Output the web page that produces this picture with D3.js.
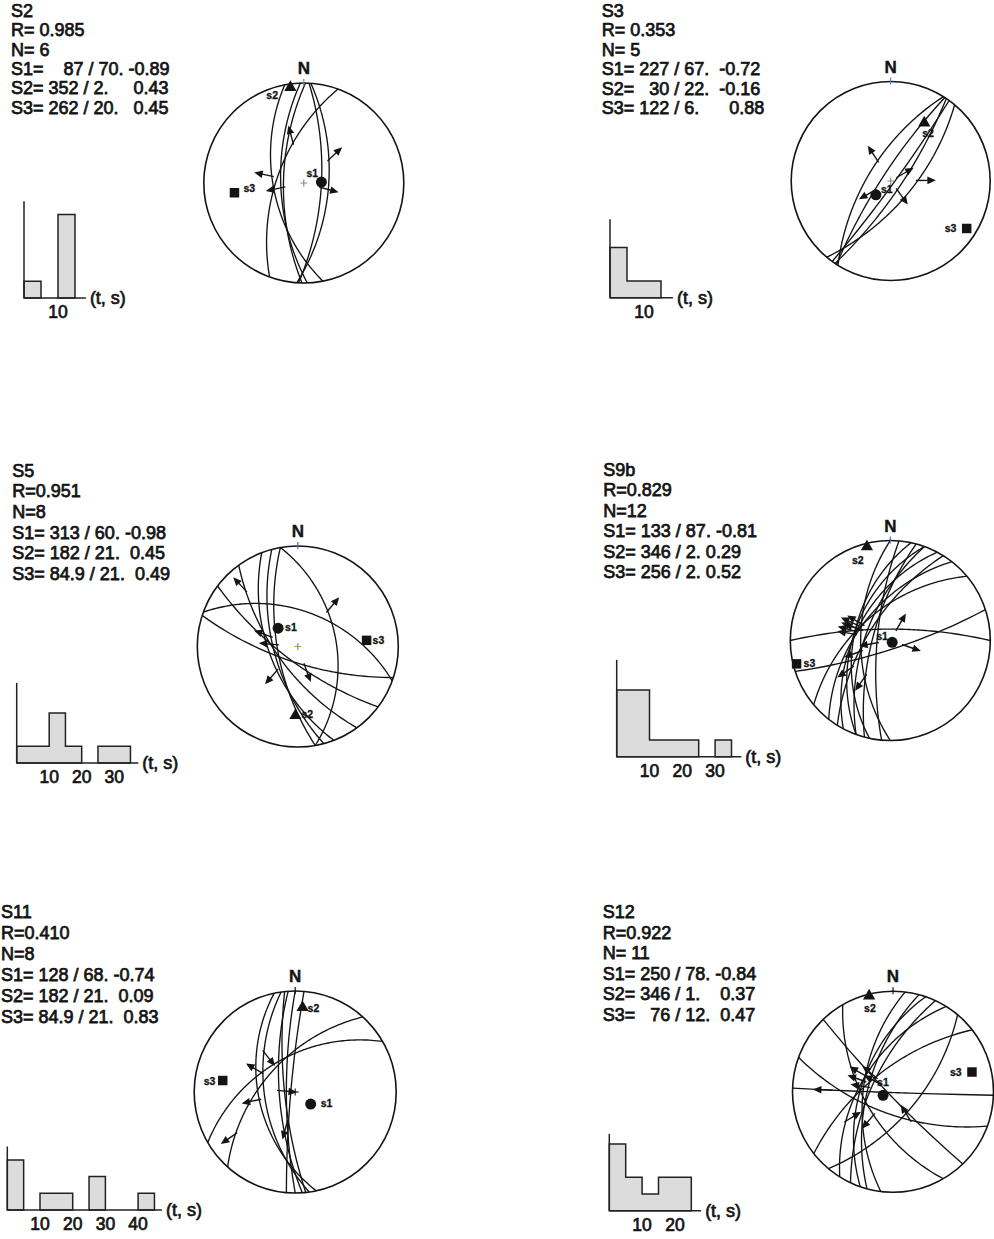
<!DOCTYPE html>
<html>
<head>
<meta charset="utf-8">
<script src="https://cdn.jsdelivr.net/npm/d3@7"></script>
<style>
  body { margin: 0; background: #fff; }
  svg { display: block; }
  text { font-family: "Liberation Sans", Arial, Helvetica, sans-serif; }
</style>
</head>
<body>
<svg id="fig" width="994" height="1239"></svg>
<script>
// ---- Site headers -------------------------------------------------------
const titles      = ["S2", "S3", "S5", "S9b", "S11", "S12"];
const ratioLines  = ["R= 0.985", "R= 0.353", "R=0.951", "R=0.829", "R=0.410", "R=0.922"];
const countLines  = ["N= 6", "N= 5", "N=8", "N=12", "N=8", "N= 11"];
const sigma1Lines = ["S1=    87 / 70. -0.89", "S1= 227 / 67.  -0.72", "S1= 313 / 60. -0.98",
                     "S1= 133 / 87. -0.81", "S1= 128 / 68. -0.74", "S1= 250 / 78. -0.84"];
const sigma2Lines = ["S2= 352 / 2.     0.43", "S2=   30 / 22.  -0.16", "S2= 182 / 21.  0.45",
                     "S2= 346 / 2. 0.29", "S2= 182 / 21.  0.09", "S2= 346 / 1.    0.37"];
const sigma3Lines = ["S3= 262 / 20.   0.45", "S3= 122 / 6.      0.88", "S3= 84.9 / 21.  0.49",
                     "S3= 256 / 2. 0.52", "S3= 84.9 / 21.  0.83", "S3=   76 / 12.  0.47"];

// ---- Principal stress axes plotted on each net: [trend, plunge] for s1, s2, s3
const axesS2  = [[87, 70], [352, 2], [262, 20]];
const axesS3  = [[227, 67], [30, 22], [122, 6]];
const axesS5  = [[313, 60], [182, 21], [84.9, 21]];
const axesS9b = [[133, 87], [346, 2], [256, 2]];
const axesS11 = [[128, 68], [5, 10], [279, 18]];
const axesS12 = [[250, 78], [346, 1], [76, 12]];

// ---- Fault-slip data: [strike (right-hand rule), dip, slip-line trend, sense]
// sense 1 = arrow pointing away from the net centre, -1 = towards it
const faultsS2 = [[200, 60, 345, 1], [169, 56, 282, 1], [181, 67, 258, 1],
                  [4, 62, 47, 1], [3, 70, 105, 1], [178, 64, null, 1]];
const faultsS3 = [[212, 65, 327, 1], [40, 66, 89, 1], [34, 78, 144, 1],
                  [213, 80, 240, 1], [36, 86, 60, 1]];
const faultsS5 = [[290, 51, null, 1], [350, 48, 40, 1], [165, 63, 290, 1], [159, 58, 221, 1],
                  [144, 66, 317, 1], [127, 73, null, 1], [108, 72, 160, 1], [170, 67, 275, 1]];
const faultsS9b = [[270, 77, 30, 1], [72, 80, 109, 1], [180, 57, 290, 1], [192, 50, 285, 1],
                   [200, 50, 295, 1], [208, 52, 280, 1], [218, 55, 300, 1], [230, 56, 290, 1],
                   [200, 62, 250, 1], [212, 65, 235, 1], [195, 70, 215, 1], [185, 75, 260, 1]];
const faultsS11 = [[240, 52, 300, 1], [222, 56, 235, 1], [168, 50, 258, 1], [172, 56, 322, -1],
                   [176, 72, 275, -1], [180, 80, 195, 1], [174, 78, null, 1], [185, 85, null, 1]];
const faultsS12 = [[92, 89, 271.5, 1], [110, 65, 149, -1], [40, 63, null, 1], [232, 65, null, 1],
                   [150, 58, 220, 1], [136, 85, 300, 1], [187, 57, 290, 1], [199, 55, 300, 1],
                   [212, 55, 238, -1], [195, 62, 280, 1], [205, 66, 310, 1]];

// ---- Histograms of fault counts per 5-unit bin of (t, s)
const binWidth = 5;
const binsS2  = [1, 0, 5];
const binsS3  = [3, 1, 1];
const binsS5  = [1, 1, 3, 1, 0, 1, 1];
const binsS9b = [4, 4, 1, 1, 1, 0, 1];
const binsS11 = [3, 0, 1, 1, 0, 2, 0, 0, 1];
const binsS12 = [4, 2, 1, 2, 2];
const histTop   = [5.8, 4.7, 4.8, 5.8, 3.8, 4.6];        // count reached by the vertical axis
const histEnd   = [18.2, 18.5, 37.4, 38, 47.3, 28];      // extent of the horizontal axis
const histTicks = [[10], [10], [10, 20, 30], [10, 20, 30], [10, 20, 30, 40], [10, 20]];

const axesAll   = [axesS2, axesS3, axesS5, axesS9b, axesS11, axesS12];
const faultsAll = [faultsS2, faultsS3, faultsS5, faultsS9b, faultsS11, faultsS12];
const binsAll   = [binsS2, binsS3, binsS5, binsS9b, binsS11, binsS12];

// ---- Page layout of every panel
const layout = [
  { tx: 11,    ty: 17,    gap: 19.3, hx: 24,    hy: 298,    ux: 3.4,  cx: 303.8, cy: 183,    r: 100,
    lab: [[-15, -5], [-24, 12], [9, -1]], tick: "#4f8fd8", cross: true },
  { tx: 601.7, ty: 16.7,  gap: 19.5, hx: 610,   hy: 297.7,  ux: 3.4,  cx: 890.7, cy: 181,    r: 99.5,
    lab: [[5, -2], [-2, 14], [-22, 4]], tick: "#4f8fd8", cross: true },
  { tx: 12.3,  ty: 476.7, gap: 20.66, hx: 16.7, hy: 763,    ux: 3.25, cx: 297.8, cy: 646.5,  r: 100.5,
    lab: [[7, 3], [6, 2], [6, 4]], tick: "#3a6fc0", cross: true },
  { tx: 603.3, ty: 476,   gap: 20.46, hx: 616.7, hy: 756.7, ux: 3.28, cx: 890.3, cy: 640.5,  r: 100,
    lab: [[-16, -2], [-15, 17], [7, 3]], tick: "#3a6fc0", cross: false },
  { tx: 1,     ty: 918.3, gap: 20.9, hx: 7.3,   hy: 1210,   ux: 3.27, cx: 295.2, cy: 1092,   r: 101,
    lab: [[10, 3], [5, 4], [-19, 4]], tick: "#111", cross: true },
  { tx: 602.7, ty: 918.3, gap: 20.5, hx: 609.3, hy: 1210.7, ux: 3.28, cx: 893,   cy: 1091.7, r: 100.5,
    lab: [[-6, -9], [-5, 16], [-22, 4]], tick: "#111", cross: false }
];

const rad = Math.PI / 180;
const ink = "#141414";
const svg = d3.select("#fig");

// Point of a plane (strike s, dip d) lying in azimuth a, as [lon, lat] = [trend, -plunge]
function planePoint(s, d, a) {
  const dd = Math.min(d, 89.9);
  const p = Math.atan(Math.tan(dd * rad) * Math.abs(Math.sin((a - s) * rad))) / rad;
  return [a, -p];
}

titles.forEach((title, i) => {
  const L = layout[i];
  const g = svg.append("g");

  // --- header text block
  const lines = [titles[i], ratioLines[i], countLines[i], sigma1Lines[i], sigma2Lines[i], sigma3Lines[i]];
  g.selectAll("text.hdr").data(lines).join("text")
    .attr("class", "hdr")
    .attr("x", L.tx)
    .attr("y", (d, k) => L.ty + k * L.gap)
    .attr("xml:space", "preserve")
    .style("white-space", "pre")
    .attr("font-size", 18)
    .attr("fill", ink)
    .attr("stroke", ink)
    .attr("stroke-width", 0.75)
    .text(d => d);

  // --- histogram
  const xh = d3.scaleLinear().domain([0, histEnd[i]]).range([L.hx, L.hx + histEnd[i] * L.ux]);
  const yh = d3.scaleLinear().domain([0, histTop[i]]).range([L.hy, L.hy - histTop[i] * 16.7]);
  const bins = binsAll[i];
  const runs = [];
  let cur = null;
  bins.forEach((c, k) => {
    if (c > 0) { if (!cur) { cur = []; runs.push(cur); } cur.push([k, c]); }
    else cur = null;
  });
  const line = d3.line();
  runs.forEach(run => {
    const pts = [[xh(run[0][0] * binWidth), yh(0)]];
    run.forEach(([k, c]) => {
      pts.push([xh(k * binWidth), yh(c)], [xh((k + 1) * binWidth), yh(c)]);
    });
    pts.push([xh((run[run.length - 1][0] + 1) * binWidth), yh(0)]);
    g.append("path").attr("d", line(pts) + "Z")
      .attr("fill", "#dcdcdc").attr("stroke", "#222").attr("stroke-width", 1.5);
  });
  g.append("line").attr("x1", xh(0)).attr("x2", xh(0)).attr("y1", yh(0)).attr("y2", yh(histTop[i]))
    .attr("stroke", "#222").attr("stroke-width", 1.5);
  g.append("line").attr("x1", xh(0)).attr("x2", xh(histEnd[i])).attr("y1", yh(0)).attr("y2", yh(0))
    .attr("stroke", "#222").attr("stroke-width", 1.5);
  g.selectAll("text.tk").data(histTicks[i]).join("text")
    .attr("class", "tk")
    .attr("x", d => xh(d)).attr("y", L.hy + 20)
    .attr("text-anchor", "middle").attr("font-size", 17.5)
    .attr("fill", ink).attr("stroke", ink).attr("stroke-width", 0.7)
    .text(d => d);
  g.append("text").attr("x", xh(histEnd[i]) + 4).attr("y", L.hy + 6)
    .attr("font-size", 18).attr("fill", ink).attr("stroke", ink).attr("stroke-width", 0.7)
    .text("(t, s)");

  // --- stereonet (lower hemisphere, equal-angle)
  const proj = d3.geoStereographic()
    .rotate([0, 90])
    .clipAngle(90)
    .scale(L.r)
    .translate([L.cx, L.cy])
    .precision(0.1);
  const path = d3.geoPath(proj);

  g.append("circle").attr("cx", L.cx).attr("cy", L.cy).attr("r", L.r)
    .attr("fill", "none").attr("stroke", ink).attr("stroke-width", 1.6);

  const faults = faultsAll[i];
  faults.forEach(([s, d]) => {
    const coords = d3.range(0, 180.5, 1).map(t => planePoint(s, d, s + t));
    g.append("path").attr("d", path({ type: "LineString", coordinates: coords }))
      .attr("fill", "none").attr("stroke", ink).attr("stroke-width", 1.35);
  });

  // slip arrows at the striation points
  faults.forEach(([s, d, slip, sense]) => {
    if (slip === null) return;
    const P = proj(planePoint(s, d, slip));
    let ux = P[0] - L.cx, uy = P[1] - L.cy;
    const len = Math.hypot(ux, uy) || 1;
    ux = ux / len * sense; uy = uy / len * sense;
    const px = -uy, py = ux;
    g.append("line")
      .attr("x1", P[0] - ux * 2).attr("y1", P[1] - uy * 2)
      .attr("x2", P[0] + ux * 11).attr("y2", P[1] + uy * 11)
      .attr("stroke", ink).attr("stroke-width", 1.4);
    const tip = [P[0] + ux * 18, P[1] + uy * 18];
    const base = [P[0] + ux * 9.5, P[1] + uy * 9.5];
    g.append("path")
      .attr("d", line([tip, [base[0] + px * 3.8, base[1] + py * 3.8], [base[0] - px * 3.8, base[1] - py * 3.8]]) + "Z")
      .attr("fill", ink);
  });

  // north mark
  g.append("line").attr("x1", L.cx).attr("x2", L.cx).attr("y1", L.cy - L.r - 4).attr("y2", L.cy - L.r + 3)
    .attr("stroke", L.tick).attr("stroke-width", 1.2);
  g.append("text").attr("x", L.cx).attr("y", L.cy - L.r - 9)
    .attr("text-anchor", "middle").attr("font-size", 17).attr("font-weight", "bold")
    .attr("fill", ink).attr("stroke", ink).attr("stroke-width", 0.4).text("N");

  // centre cross
  if (L.cross) {
    const coloured = i < 3;
    g.append("line").attr("x1", L.cx - 3.5).attr("x2", L.cx + 3.5).attr("y1", L.cy).attr("y2", L.cy)
      .attr("stroke", coloured ? "#e08a2c" : ink).attr("stroke-width", 1.1);
    g.append("line").attr("x1", L.cx).attr("x2", L.cx).attr("y1", L.cy - 3.5).attr("y2", L.cy + 3.5)
      .attr("stroke", coloured ? "#4f8fd8" : ink).attr("stroke-width", 1.1);
  }

  // principal stress axes
  const axes = axesAll[i];
  const symbols = [d3.symbolCircle, d3.symbolTriangle, d3.symbolSquare];
  const sizes = [95, 65, 90];
  const names = ["s1", "s2", "s3"];
  axes.forEach(([tr, pl], k) => {
    const P = proj([tr, -pl]);
    g.append("path")
      .attr("d", d3.symbol().type(symbols[k]).size(sizes[k])())
      .attr("transform", `translate(${P[0]},${P[1]})`)
      .attr("fill", ink);
    g.append("text")
      .attr("x", P[0] + L.lab[k][0]).attr("y", P[1] + L.lab[k][1])
      .attr("font-size", 10.5).attr("font-weight", "bold").attr("fill", ink)
      .attr("stroke", ink).attr("stroke-width", 0.3)
      .text(names[k]);
  });
});
</script>
</body>
</html>
